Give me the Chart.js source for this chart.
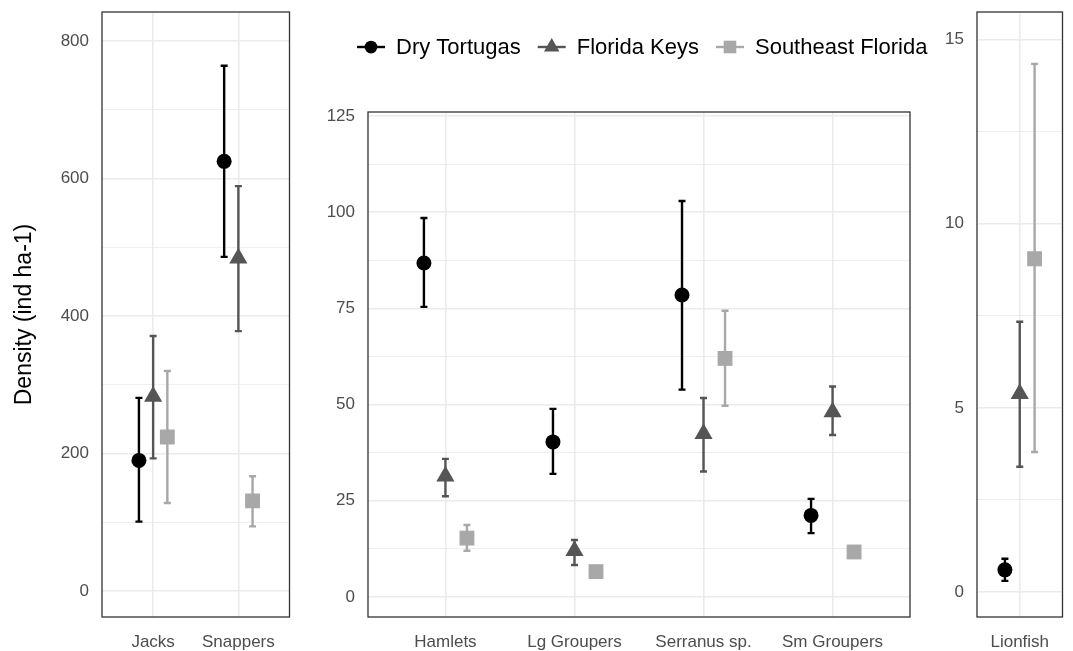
<!DOCTYPE html>
<html>
<head>
<meta charset="utf-8">
<script src="https://cdn.jsdelivr.net/npm/chart.js@4.4.0/dist/chart.umd.min.js"></script>
<style>
  body { margin: 0; background: #fff; }
  #wrap { position: relative; width: 1073px; height: 651px; overflow: hidden; }
  canvas { position: absolute; top: 0; }
</style>
</head>
<body>
<div id="wrap">
  <canvas id="left" width="300" height="651" style="left:0"></canvas>
  <canvas id="mid" width="640" height="651" style="left:300px"></canvas>
  <canvas id="right" width="153" height="651" style="left:920px"></canvas>
</div>
<script>
// groups and regions
const regions = ["Dry Tortugas", "Florida Keys", "Southeast Florida"];
const regionColors = ["#000000", "#555555", "#a8a8a8"];
const regionShapes = ["circle", "triangle", "rect"];
const regionSizes = [7.5, 10.5, 10.5];

const leftCats = ["Jacks", "Snappers"];
const midCats = ["Hamlets", "Lg Groupers", "Serranus sp.", "Sm Groupers"];
const rightCats = ["Lionfish"];

// rows = regions (DT, FK, SE), columns = categories
const leftMean  = [[190, 625], [283, 484], [224, 131]];
const leftLower = [[101, 486], [193, 378], [128, 94]];
const leftUpper = [[281, 764], [371, 589], [320, 167]];

const midMean  = [[86.8, 40.3, 78.5, 21.2], [31.4, 12.0, 42.4, 48.1], [15.3, 6.6, 62.0, 11.7]];
const midLower = [[75.4, 32.0, 53.9, 16.6], [26.2, 8.3, 32.6, 42.1], [12.0, 5.6, 49.7, 10.5]];
const midUpper = [[98.5, 48.9, 102.9, 25.5], [35.9, 14.8, 51.7, 54.7], [18.7, 7.6, 74.4, 13.0]];

const rightMean  = [[0.6], [5.38], [9.05]];
const rightLower = [[0.3], [3.4], [3.8]];
const rightUpper = [[0.9], [7.34], [14.34]];

const leftTicks = [0, 200, 400, 600, 800];
const midTicks = [0, 25, 50, 75, 100, 125];
const rightTicks = [0, 5, 10, 15];

const dodge = 1 / 6;
const fontFamily = "'Liberation Sans', Arial, sans-serif";
const tickFont = { family: fontFamily, size: 17 };

const errorBars = {
  id: "errorBars",
  beforeDatasetsDraw(chart) {
    const { ctx, scales: { x, y } } = chart;
    chart.data.datasets.forEach((ds) => {
      ctx.save();
      ctx.strokeStyle = ds.borderColor;
      ctx.lineWidth = 2.4;
      ds.data.forEach((p) => {
        const px = x.getPixelForValue(p.x);
        const top = y.getPixelForValue(p.hi);
        const bot = y.getPixelForValue(p.lo);
        ctx.beginPath();
        ctx.moveTo(px, top);
        ctx.lineTo(px, bot);
        ctx.moveTo(px - 3.5, top);
        ctx.lineTo(px + 3.5, top);
        ctx.moveTo(px - 3.5, bot);
        ctx.lineTo(px + 3.5, bot);
        ctx.stroke();
      });
      ctx.restore();
    });
  },
  afterDraw(chart) {
    const { ctx, chartArea: a } = chart;
    ctx.save();
    ctx.strokeStyle = "#333333";
    ctx.lineWidth = 1.3;
    ctx.strokeRect(a.left, a.top, a.right - a.left, a.bottom - a.top);
    ctx.restore();
  }
};

const legendPlugin = {
  id: "manualLegend",
  afterDraw(chart) {
    const ctx = chart.ctx;
    const y = 47;
    let x = 57;
    ctx.save();
    ctx.font = "22px " + fontFamily;
    ctx.textBaseline = "middle";
    chart.data.datasets.forEach((ds) => {
      ctx.strokeStyle = ds.borderColor;
      ctx.fillStyle = ds.backgroundColor;
      ctx.lineWidth = 2.4;
      ctx.beginPath();
      ctx.moveTo(x, y);
      ctx.lineTo(x + 28, y);
      ctx.stroke();
      Chart.helpers.drawPoint(ctx, { pointStyle: ds.pointStyle, radius: ds.pointRadius * 0.85, rotation: 0, borderWidth: 0 }, x + 14, y);
      ctx.fillStyle = "#000000";
      ctx.fillText(ds.label, x + 39, y + 1);
      x += 39 + ctx.measureText(ds.label).width + 17;
    });
    ctx.restore();
  }
};

function makeDatasets(cats, mean, lower, upper) {
  return regions.map((name, r) => ({
    label: name,
    data: cats.map((c, i) => ({ x: i + 1 + (r - 1) * dodge, y: mean[r][i], lo: lower[r][i], hi: upper[r][i] })),
    backgroundColor: regionColors[r],
    borderColor: regionColors[r],
    pointBackgroundColor: regionColors[r],
    pointBorderWidth: 0,
    pointStyle: regionShapes[r],
    pointRadius: regionSizes[r],
    pointHoverRadius: regionSizes[r]
  }));
}

function noPadding(s) {
  s.paddingTop = 0;
  s.paddingBottom = 0;
  s.paddingLeft = 0;
  s.paddingRight = 0;
}

function makeChart(id, cats, mean, lower, upper, majors, opts) {
  const minors = majors.slice(0, -1).map((v, i) => (v + majors[i + 1]) / 2);
  const allTicks = majors.concat(minors).sort((a, b) => a - b);
  return new Chart(document.getElementById(id), {
    type: "scatter",
    data: { datasets: makeDatasets(cats, mean, lower, upper) },
    plugins: opts.legend ? [errorBars, legendPlugin] : [errorBars],
    options: {
      responsive: false,
      animation: false,
      layout: { padding: { top: opts.top, right: opts.right, left: 0, bottom: 0 } },
      plugins: { legend: { display: false }, tooltip: { enabled: false } },
      scales: {
        x: {
          type: "linear",
          min: opts.xMin,
          max: opts.xMax,
          afterBuildTicks: (s) => { s.ticks = cats.map((c, i) => ({ value: i + 1 })); },
          afterFit: (s) => { s.height = 34; noPadding(s); },
          ticks: {
            callback: (v) => cats[Math.round(v) - 1],
            autoSkip: false,
            maxRotation: 0,
            padding: 15,
            color: "#4d4d4d",
            font: tickFont
          },
          grid: { color: "#ebebeb", lineWidth: 1.6, drawTicks: false },
          border: { display: false }
        },
        y: {
          min: opts.yMin,
          max: opts.yMax,
          afterBuildTicks: (s) => { s.ticks = allTicks.map((v) => ({ value: v })); },
          afterFit: (s) => { s.width = opts.yWidth; noPadding(s); },
          ticks: {
            callback: (v) => (majors.includes(v) ? String(v) : ""),
            padding: 13,
            color: "#4d4d4d",
            font: tickFont
          },
          grid: {
            color: "#ebebeb",
            lineWidth: (c) => (majors.includes(c.tick && c.tick.value) ? 1.6 : 0.8),
            drawTicks: false
          },
          border: { display: false },
          title: {
            display: !!opts.title,
            text: opts.title || "",
            color: "#000000",
            font: { family: fontFamily, size: 23 },
            padding: { top: 11, bottom: 0 }
          }
        }
      }
    }
  });
}

makeChart("left", leftCats, leftMean, leftLower, leftUpper, leftTicks, {
  top: 12, right: 8, yWidth: 102, xMin: 0.4, xMax: 2.6, yMin: -37.8, yMax: 842.2,
  title: "Density (ind ha-1)"
});
makeChart("mid", midCats, midMean, midLower, midUpper, midTicks, {
  top: 112, right: 30, yWidth: 68, xMin: 0.4, xMax: 4.6, yMin: -5.2, yMax: 126.04, legend: true
});
makeChart("right", rightCats, rightMean, rightLower, rightUpper, rightTicks, {
  top: 12, right: 9, yWidth: 57, xMin: 0.52, xMax: 1.48, yMin: -0.68, yMax: 15.75
});
</script>
</body>
</html>
